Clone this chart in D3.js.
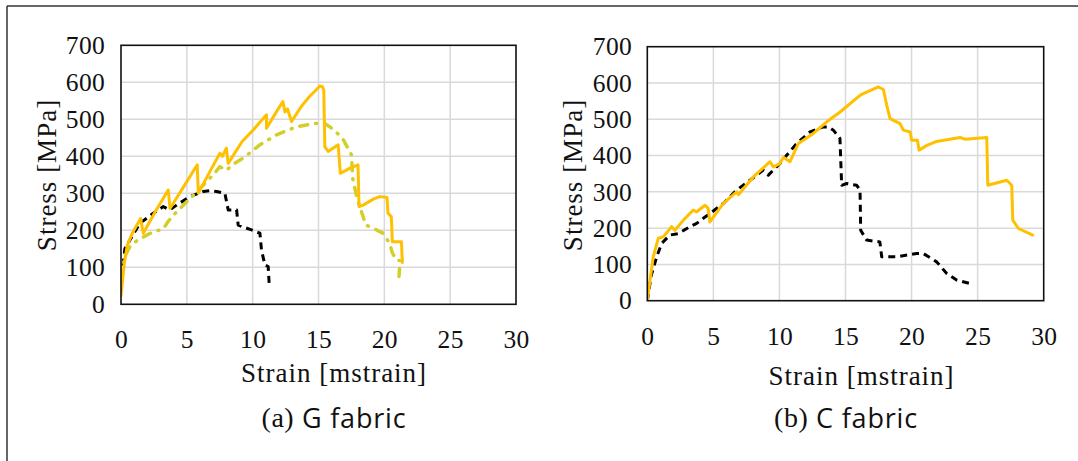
<!DOCTYPE html>
<html><head><meta charset="utf-8">
<script src="https://cdn.jsdelivr.net/npm/d3@7"></script>
<style>
body{margin:0;background:#fff}svg{display:block}
.serif{font-family:"Liberation Serif","Times New Roman","DejaVu Serif",serif !important;}
.sans{font-family:"Open Sans","Noto Sans",sans-serif !important;}
</style>
</head><body>
<svg id="chart" width="1078" height="461"></svg>
<script>
// ---- data ----
const strainTicks = [0, 5, 10, 15, 20, 25, 30];
const stressTicks = [0, 100, 200, 300, 400, 500, 600, 700];

// G fabric
const gOrange = [[0,23],[0.25,110],[0.48,160],[0.9,195],[1.49,232],[1.69,192],[2.6,250],[3.59,309],[3.72,259],[4.8,320],[5.79,377],[5.87,300],[6.8,362],[7.51,408],[7.7,400],[8.0,422],[8.14,381],[9.2,440],[10.04,471],[10.5,490],[11.05,512],[11.05,476],[11.8,520],[12.3,548],[12.45,520],[12.65,528],[12.95,494],[13.7,535],[14.3,561],[14.7,575],[15.1,590],[15.3,588],[15.4,579],[15.48,426],[15.73,413],[16.49,431],[16.66,354],[17.4,368],[18.0,377],[18.08,264],[18.39,268],[19.2,285],[19.65,291],[20.2,289],[20.28,246],[20.53,237],[20.61,169],[21.3,169],[21.37,113]];
const gLime = [[0,70],[0.3,130],[0.68,156],[1.2,172],[1.95,187],[2.6,198],[3.2,203],[3.6,225],[4.22,250],[5.24,286],[5.8,305],[6.37,327],[7.0,350],[7.51,372],[8.0,362],[8.5,378],[9.28,395],[10.55,431],[11.81,458],[13.33,480],[14.85,489],[15.5,488],[16.0,476],[16.5,460],[16.9,444],[17.5,404],[17.6,340],[17.9,291],[18.3,246],[18.6,214],[19.2,205],[19.9,192],[20.4,165],[20.6,140],[20.9,120],[21.2,118],[21.1,70]];
const gBlack = [[0,40],[0.05,75],[0.3,151],[0.68,174],[1.44,219],[2.45,246],[3.21,264],[3.7,255],[4.22,268],[5.24,291],[6.25,305],[6.75,307],[7.26,305],[7.89,300],[8.14,255],[8.78,255],[8.9,214],[9.91,201],[10.55,192],[10.67,147],[10.93,106],[11.18,102],[11.25,57]];

// C fabric
const cOrange = [[0,0],[0.45,121],[0.83,172],[1.21,176],[1.84,204],[2.09,194],[2.73,222],[3.48,250],[3.74,245],[4.37,263],[4.6,255],[4.74,217],[5.75,268],[6.76,300],[6.9,292],[8.02,341],[9.29,383],[9.54,369],[10.04,378],[10.3,395],[10.8,383],[11.43,433],[12.57,461],[13.58,493],[14.59,520],[16.1,566],[16.35,571],[17.49,589],[17.87,582],[18.12,539],[18.37,502],[19.13,488],[19.38,470],[19.89,465],[20.01,442],[20.44,442],[20.57,415],[21.16,428],[21.9,439],[23.67,450],[24.05,445],[25.69,450],[25.77,318],[27.2,332],[27.58,318],[27.66,222],[28.09,199],[29.17,181]];
const cBlack = [[0,0],[0.3,70],[0.71,121],[1.09,158],[1.72,181],[2.35,185],[3.23,204],[3.74,213],[4.24,227],[4.74,240],[5.75,268],[6.76,305],[7.77,332],[8.77,360],[9.16,346],[10.04,378],[10.55,401],[11.3,433],[12.31,465],[13.32,479],[13.7,479],[14.08,470],[14.58,447],[14.71,318],[15.09,323],[15.85,318],[16.1,305],[16.15,194],[16.6,167],[17.6,162],[17.74,121],[18.87,121],[20.38,130],[20.89,130],[21.9,107],[22.66,75],[23.41,57],[24.55,46]];

const xTitle = "Strain [mstrain]";
const yTitle = "Stress [MPa]";

// ---- drawing ----
const svg = d3.select("#chart");

// outer frame
svg.append("line").attr("x1",7).attr("y1",6).attr("x2",1078).attr("y2",6).attr("stroke","#333").attr("stroke-width",1.5);
svg.append("line").attr("x1",7).attr("y1",6).attr("x2",7).attr("y2",461).attr("stroke","#333").attr("stroke-width",1.5);

const styles = {
  orange: {stroke:"#FFC000", width:3, dash:null, cap:"round"},
  lime:   {stroke:"#D3CF2A", width:3.5, dash:"8,8,1,8", cap:"round"},
  black:  {stroke:"#000000", width:3, dash:"7,5", cap:"butt"}
};

function panel(cfg, series) {
  const x = d3.scaleLinear().domain([0,30]).range([cfg.left, cfg.right]);
  const y = d3.scaleLinear().domain([0,700]).range([cfg.bottom, cfg.top]);
  const g = svg.append("g");

  // gridlines
  g.append("g").selectAll("line").data(strainTicks.slice(1,-1)).join("line")
    .attr("x1",d=>x(d)).attr("x2",d=>x(d)).attr("y1",cfg.top).attr("y2",cfg.bottom)
    .attr("stroke","#d9d9d9").attr("stroke-width",1.5);
  g.append("g").selectAll("line").data(stressTicks.slice(1,-1)).join("line")
    .attr("y1",d=>y(d)).attr("y2",d=>y(d)).attr("x1",cfg.left).attr("x2",cfg.right)
    .attr("stroke","#d9d9d9").attr("stroke-width",1.5);

  // axes (labels only)
  const ax = g.append("g").attr("transform",`translate(0,${cfg.bottom})`)
    .call(d3.axisBottom(x).tickValues(strainTicks).tickSize(0).tickPadding(26).tickFormat(d3.format("d")));
  const ay = g.append("g").attr("transform",`translate(${cfg.left},0)`)
    .call(d3.axisLeft(y).tickValues(stressTicks).tickSize(0).tickPadding(cfg.ypad).tickFormat(d3.format("d")));
  [ax, ay].forEach(a => {
    a.attr("font-family",null).attr("font-size",null);
    a.select(".domain").remove();
    a.selectAll("text").attr("class","serif").style("font-size","25.5px").style("letter-spacing","0.3px").attr("fill","#111");
  });

  // series
  const line = d3.line().x(d=>x(d[0])).y(d=>y(d[1]));
  const clipId = "clip" + cfg.id;
  svg.append("clipPath").attr("id",clipId).append("rect")
    .attr("x",cfg.left).attr("y",cfg.top-4).attr("width",cfg.right-cfg.left+4).attr("height",cfg.bottom-cfg.top+4);
  series.forEach(s => {
    const st = styles[s.style];
    g.append("path").datum(s.data).attr("d",line).attr("fill","none")
      .attr("clip-path",`url(#${clipId})`)
      .attr("stroke",st.stroke).attr("stroke-width",st.width)
      .attr("stroke-linejoin","round").attr("stroke-linecap",st.cap)
      .attr("stroke-dasharray",st.dash);
  });

  // frame
  g.append("rect").attr("x",cfg.left).attr("y",cfg.top).attr("width",cfg.right-cfg.left).attr("height",cfg.bottom-cfg.top)
    .attr("fill","none").attr("stroke","#111").attr("stroke-width",1.6);

  // titles
  g.append("text").attr("class","serif").attr("x",cfg.xtx).attr("y",cfg.xty).attr("text-anchor","middle")
    .attr("dominant-baseline","central").style("font-size","27px").style("letter-spacing","1px").attr("fill","#111").text(xTitle);
  g.append("text").attr("class","serif").attr("transform",`translate(${cfg.ytx},${cfg.yty}) rotate(-90)`).attr("text-anchor","middle")
    .attr("dominant-baseline","central").style("font-size","27px").style("letter-spacing","1px").attr("fill","#111").text(yTitle);

  const cap = g.append("text").attr("x",cfg.capx).attr("y",cfg.capy).attr("text-anchor","middle")
    .attr("dominant-baseline","central").attr("fill","#111");
  cap.append("tspan").attr("class","serif").style("font-size","28px").style("letter-spacing","0.5px").text(cfg.capA);
  cap.append("tspan").attr("class","sans").style("font-size","27px").style("letter-spacing","0.8px").text(" " + cfg.capB);
}

panel({id:"a", left:121, right:516, top:45.3, bottom:304.3, ypad:16,
       xtx:334, xty:372.5, ytx:46.5, yty:175, capx:334, capy:416.5, capA:"(a)", capB:"G fabric"},
      [{data:gBlack, style:"black"}, {data:gLime, style:"lime"}, {data:gOrange, style:"orange"}]);
panel({id:"b", left:647.3, right:1043.7, top:46.7, bottom:300.7, ypad:15.3,
       xtx:861.5, xty:376, ytx:572.5, yty:175, capx:846, capy:416.5, capA:"(b)", capB:"C fabric"},
      [{data:cBlack, style:"black"}, {data:cOrange, style:"orange"}]);
</script>
</body></html>
